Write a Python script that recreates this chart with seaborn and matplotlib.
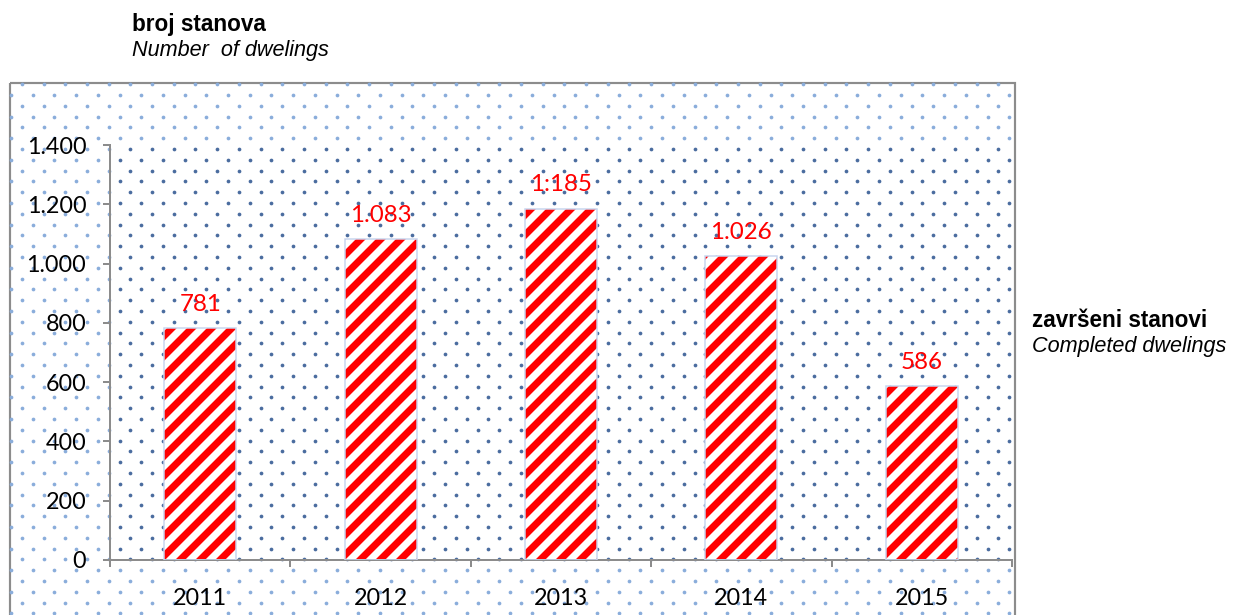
import numpy as np
import pandas as pd
import seaborn as sns
import matplotlib.pyplot as plt
from matplotlib.patches import Rectangle

years = ["2011", "2012", "2013", "2014", "2015"]
dwellings = [781, 1083, 1185, 1026, 586]
bar_labels = ["781", "1.083", "1:185", "1.026", "586"]
y_ticks = [0, 200, 400, 600, 800, 1000, 1200, 1400]
y_tick_labels = ["0", "200", "400", "600", "800", "1.000", "1.200", "1.400"]

df = pd.DataFrame({"godina": years, "stanovi": dwellings})

sns.set_style("white")
plt.rcParams["font.family"] = ["Lato", "DejaVu Sans"]
plt.rcParams["text.color"] = "black"
plt.rcParams["xtick.color"] = "black"
plt.rcParams["ytick.color"] = "black"
plt.rcParams["hatch.linewidth"] = 4.2

W, H, DPI = 1235, 615, 120
fig = plt.figure(figsize=(W / DPI, H / DPI), dpi=DPI)

# background: outer frame with dotted pattern (pixel coordinates)
bg = fig.add_axes([0, 0, 1, 1], zorder=0)
bg.set_xlim(0, W)
bg.set_ylim(H, 0)
bg.axis("off")
bg.add_patch(Rectangle((10, 83), 1005, 560, fill=False, ec="#8c8c8c", lw=1.3))

ax_l, ax_r, ax_t, ax_b = 110, 1012, 145, 560
rows = np.arange(84.2, H + 5, 10.8)
px, py = [], []
for i, yy in enumerate(rows):
    x0 = 11 if i % 2 else 21.85
    for xx in np.arange(x0, 1014, 21.7):
        px.append(xx)
        py.append(yy)
px, py = np.array(px), np.array(py)
inside = (px > ax_l) & (px < ax_r) & (py > ax_t) & (py < ax_b)
bg.scatter(px[~inside], py[~inside], s=5, color="#8aaddb", lw=0)
bg.scatter(px[inside], py[inside], s=5, color="#4a6c9f", lw=0)

# main axes
ax = fig.add_axes([ax_l / W, 1 - ax_b / H, (ax_r - ax_l) / W, (ax_b - ax_t) / H], zorder=1)
ax.patch.set_alpha(0)

sns.barplot(data=df, x="godina", y="stanovi", ax=ax, width=0.4,
            color="white", saturation=1, linewidth=0, zorder=2)

for p in ax.patches:
    p.set_hatch("//")
    p.set_edgecolor("#ff0000")
    p.set_linewidth(0)
    ax.add_patch(Rectangle(p.get_xy(), p.get_width(), p.get_height(),
                           fill=False, ec="#c8d5ee", lw=0.9, zorder=3))

ax.bar_label(ax.containers[0], labels=bar_labels, padding=8, color="#ff0000", fontsize=14.5)

ax.set_xlim(-0.5, 4.5)
ax.set_ylim(0, 1400)
ax.set_yticks(y_ticks)
ax.set_yticklabels(y_tick_labels)
ax.set_xticks(np.arange(-0.5, 5, 1), minor=True)
ax.tick_params(axis="x", which="major", bottom=True, length=0, pad=17, labelsize=14)
ax.tick_params(axis="x", which="minor", bottom=True, length=4.2, width=1.2,
               color="#8c8c8c", direction="out")
ax.tick_params(axis="y", left=True, length=4.2, width=1.2, color="#8c8c8c",
               direction="out", pad=10, labelsize=14)
ax.set_xlabel("")
ax.set_ylabel("")
for s in ["top", "right"]:
    ax.spines[s].set_visible(False)
for s in ["left", "bottom"]:
    ax.spines[s].set_color("#8c8c8c")
    ax.spines[s].set_linewidth(1.2)

fig.text(132 / W, 1 - 31 / H, "broj stanova", fontsize=13.5, fontweight="bold",
         family=["Liberation Sans", "DejaVu Sans"], va="baseline")
fig.text(132 / W, 1 - 56 / H, "Number  of dwelings", fontsize=13, style="italic",
         family=["Liberation Sans", "DejaVu Sans"], va="baseline")
fig.text(1032 / W, 1 - 327 / H, "završeni stanovi", fontsize=13.5, fontweight="bold",
         family=["Liberation Sans", "DejaVu Sans"], va="baseline")
fig.text(1032 / W, 1 - 352 / H, "Completed dwelings", fontsize=13, style="italic",
         family=["Liberation Sans", "DejaVu Sans"], va="baseline")

plt.savefig("out.png", dpi=DPI)
